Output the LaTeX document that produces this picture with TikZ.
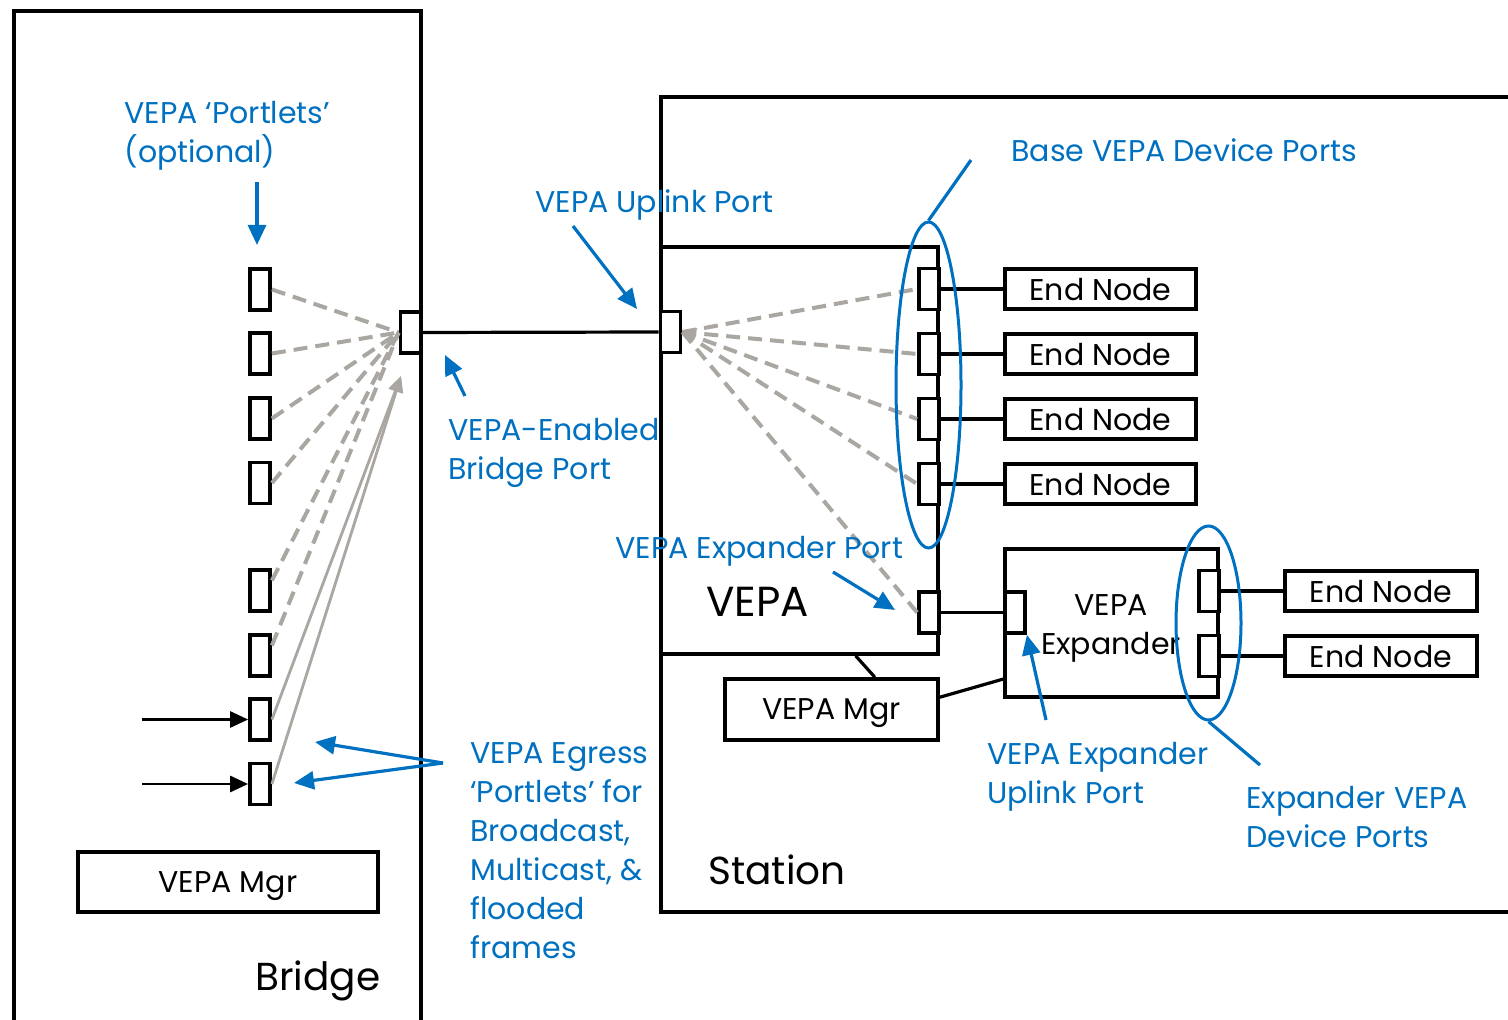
\documentclass[tikz,border=0pt]{standalone}
\usepackage{fontspec}
\setmainfont{Poppins}
\usetikzlibrary{arrows.meta,shapes.geometric,calc}
\definecolor{hpblue}{RGB}{0,112,192}
\definecolor{linkgray}{RGB}{170,166,161}

\begin{document}
\begin{tikzpicture}[x=0.5pt,y=-0.5pt,
  frame/.style={line width=1.9pt},
  port/.style={draw,line width=1.9pt,fill=white,minimum width=10pt,minimum height=20.5pt,inner sep=0pt},
  box/.style={draw,line width=1.8pt,fill=white,inner sep=0pt,align=center,text depth=0pt,font=\fontsize{15}{19.5}\selectfont},
  endnode/.style={box,minimum width=95.5pt,minimum height=20pt},
  wire/.style={line width=1.6pt},
  fan/.style={draw=linkgray,line width=2pt,dash pattern=on 7pt off 4pt},
  flow/.style={draw=linkgray,line width=1.4pt},
  feed/.style={line width=1.4pt,-{Triangle[length=9pt,width=8pt]}},
  callout/.style={draw=hpblue,line width=1.6pt,-{Triangle[length=10pt,width=9pt]}},
  lead/.style={draw=hpblue,line width=1.6pt},
  group/.style={draw=hpblue,line width=1.5pt,ellipse,inner sep=0pt},
  lbl/.style={text=hpblue,font=\fontsize{15}{19.5}\selectfont,anchor=base west,align=left,inner sep=0pt},
  big/.style={font=\fontsize{19.5}{24}\selectfont,anchor=base west,inner sep=0pt}
]
\useasboundingbox (0,0) rectangle (1508,1020);

% outer frames: bridge (open at the bottom) and station (open at the right)
\draw[frame] (14,1020) -- (14,11) -- (421,11) -- (421,1020);
\draw[frame] (1508,97) -- (661,97) -- (661,912) -- (1508,912);

% bridge side
\node[box,minimum width=150pt,minimum height=30pt] (bmgr) at (228,882) {VEPA Mgr};
\foreach \i/\y in {1/289.5,2/353.5,3/418.5,4/483,5/590.5,6/655.5,7/719.5,8/784}
  \node[port] (p\i) at (260,\y) {};
\node[port] (bport) at (410.5,332.5) {};

% station side
\node[box,minimum width=138.5pt,minimum height=203.5pt] (vepa) at (799.5,450.5) {};
\node[big,font=\fontsize{21}{25}\selectfont] (vepatxt) at (706,617) {VEPA};
\node[big] (stationtxt) at (708,884) {Station};
\node[big] (bridgetxt) at (255,990) {Bridge};
\node[box,minimum width=106.5pt,minimum height=30.5pt] (smgr) at (831.5,709.5) {VEPA Mgr};
\node[box,minimum width=106.5pt,minimum height=74pt] (exp) at (1111.5,623) {};
\node[font=\fontsize{15}{19.5}\selectfont,align=center,inner sep=0pt] (exptxt) at (1111,628) {VEPA\\Expander};

\node[port] (uport) at (670.5,332) {};
\foreach \i/\y in {1/289,2/354,3/419,4/484}{
  \node[port] (bp\i) at (929,\y) {};
  \node[endnode] (en\i) at (1100.5,\y) {End Node};
  \draw[wire] (bp\i.east) -- (en\i.west);
}
\node[port] (xport) at (929,612.5) {};
\node[port] (xup) at (1015,612.5) {};
\node[port] (xd1) at (1209,591) {};
\node[port] (xd2) at (1209,656) {};
\node[endnode,minimum width=96pt] (en5) at (1381,591) {End Node};
\node[endnode,minimum width=96pt] (en6) at (1381,656) {End Node};
\draw[wire] (xd1.east) -- (en5.west);
\draw[wire] (xd2.east) -- (en6.west);
\draw[wire] (xport.east) -- (xup.west);
\draw[wire] (bport.east) -- (uport.west);
\draw[wire] ($(vepa.south west)!0.7!(vepa.south east)$) -- ($(smgr.north west)!0.7!(smgr.north east)$);
\draw[wire] ($(smgr.north east)!0.31!(smgr.south east)$) -- ($(exp.north west)!0.87!(exp.south west)$);

% frame flooding inside the bridge
\foreach \i in {1,2,3,4}
  \draw[fan] (p\i.east) -- (bport.west);
\draw[fan] (p5.40) -- (bport.west);
\draw[fan] (p6.40) -- (bport.west);
\coordinate (gtip) at (401,376);
\draw[flow,-{Triangle[length=8pt,width=7pt]}] (p7.east) -- (gtip);
\draw[flow,-{Triangle[length=8pt,width=7pt]}] (p8.east) -- (gtip);
\coordinate (in7) at (142,719.5);
\coordinate (in8) at (142,784);
\draw[feed] (in7) -- (p7.west);
\draw[feed] (in8) -- (p8.west);

% frame flooding inside the VEPA
\foreach \n in {bp1,bp2,bp3,bp4,xport}
  \draw[fan] (uport.east) -- (\n.west);
\fill[linkgray] ($(uport.east)+(2,-1)$) -- ++(13,-3) -- ++(-6,15) -- cycle;

% port groups
\node[group,minimum width=32.5pt,minimum height=163pt] (ell1) at (928.5,385) {};
\node[group,minimum width=32.5pt,minimum height=97pt] (ell2) at (1208.5,623) {};

% callout labels (a multi-line label sits on the baseline of its last line)
\node[lbl] (l1) at (124,163) {VEPA ‘Portlets’\\(optional)};
\coordinate (a1) at (257,182);
\coordinate (t1) at (257,245);
\draw[callout] (a1) -- (t1);

\node[lbl] (l2) at (535,213) {VEPA Uplink Port};
\coordinate (a2) at (573,226);
\coordinate (t2) at (637,309);
\draw[callout] (a2) -- (t2);

\node[lbl] (l3) at (448,480) {VEPA-Enabled\\Bridge Port};
\coordinate (a3) at (465,396);
\coordinate (t3) at (445,355);
\draw[callout] (a3) -- (t3);

\node[lbl] (l4) at (1011,162) {Base VEPA Device Ports};
\coordinate (a4) at (971,160);
\draw[lead] (ell1.north) -- (a4);

\node[lbl] (l5) at (615,559) {VEPA Expander Port};
\coordinate (a5) at (833,572);
\coordinate (t5) at (895,610);
\draw[callout] (a5) -- (t5);

\node[lbl] (l6) at (470,958) {VEPA Egress\\‘Portlets’ for\\Broadcast,\\Multicast, \&\\flooded\\frames};
\coordinate (a6) at (443,763);
\coordinate (t6a) at (315,742);
\coordinate (t6b) at (294,783);
\draw[callout] (a6) -- (t6a);
\draw[callout] (a6) -- (t6b);

\node[lbl] (l7) at (987,803) {VEPA Expander\\Uplink Port};
\coordinate (a7) at (1046,720);
\draw[callout] (a7) -- (xup.south east);

\node[lbl] (l8) at (1246,847) {Expander VEPA\\Device Ports};
\coordinate (a8) at (1260,765);
\draw[lead] (ell2.south) -- (a8);
\end{tikzpicture}
\end{document}
